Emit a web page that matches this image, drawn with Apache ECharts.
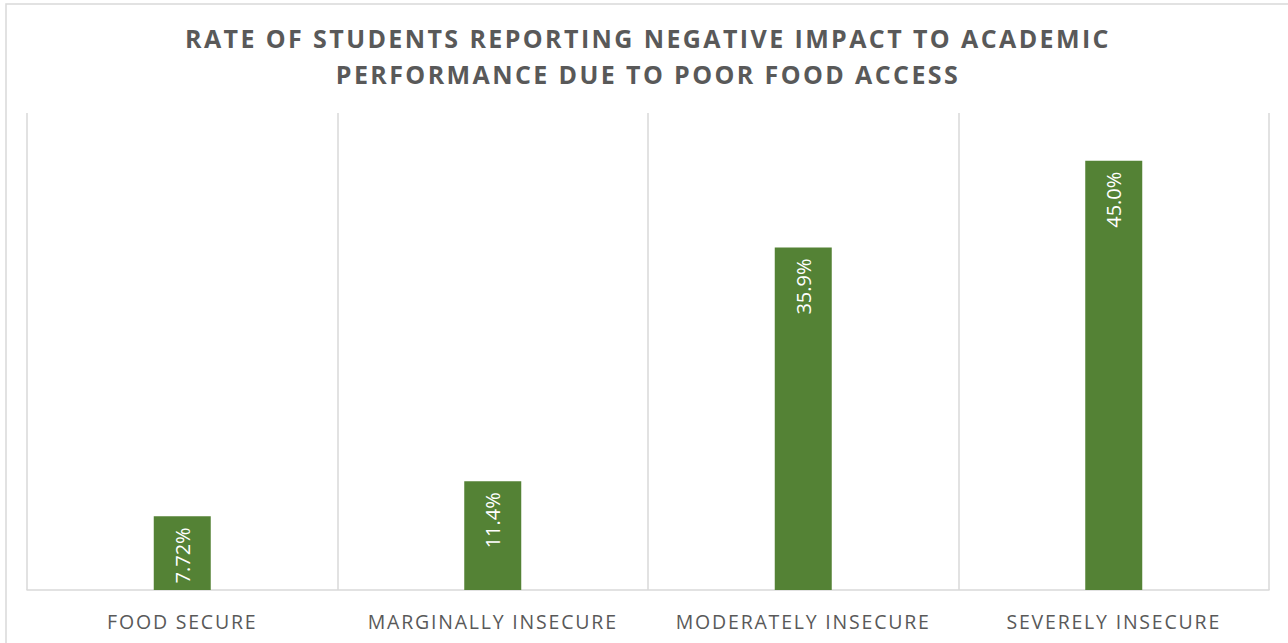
<!DOCTYPE html>
<html>
<head>
<meta charset="utf-8">
<script src="https://cdn.jsdelivr.net/npm/echarts@6/dist/echarts.min.js"></script>
<style>
  html, body { margin: 0; padding: 0; background: #ffffff; }
  #chart { width: 1288px; height: 643px; }
</style>
</head>
<body>
<div id="chart"></div>
<script>
// Food security groups and the share of students reporting a negative academic impact (%)
const categories = ['FOOD SECURE', 'MARGINALLY INSECURE', 'MODERATELY INSECURE', 'SEVERELY INSECURE'];
const rates = [7.72, 11.4, 35.9, 45.0];
const rateLabels = ['7.72%', '11.4%', '35.9%', '45.0%'];
const titleLines = ['RATE OF STUDENTS REPORTING NEGATIVE IMPACT TO ACADEMIC', 'PERFORMANCE DUE TO POOR FOOD ACCESS'];

const host = document.getElementById('chart');

// Tracked-out lettering for the title and category names (SVG text supports letter-spacing)
function trackText(root) {
  root.querySelectorAll('text').forEach(t => {
    const cs = getComputedStyle(t);
    let sp = '1.8px';
    if (parseInt(cs.fontWeight, 10) >= 600) sp = '2.4px';
    else if (cs.fill === 'rgb(255, 255, 255)' || cs.fill === '#ffffff' || cs.fill === 'white') sp = '0px';
    if (t.getAttribute('letter-spacing') !== sp) t.setAttribute('letter-spacing', sp);
  });
}
new MutationObserver(() => trackText(host)).observe(host, { childList: true, subtree: true, attributes: true, attributeFilter: ['style', 'fill'] });

const chart = echarts.init(host, null, { renderer: 'svg' });

chart.setOption({
  backgroundColor: '#ffffff',
  animation: false,
  graphic: [
    {
      type: 'rect',
      x: 6, y: 4,
      shape: { x: 0, y: 0, width: 1300, height: 660 },
      style: { fill: 'none', stroke: '#d9d9d9', lineWidth: 1.5 },
      silent: true
    },
    {
      type: 'text',
      x: 648, y: 38,
      style: {
        text: titleLines[0],
        align: 'center', verticalAlign: 'middle',
        font: 'bold 25px "Open Sans"', fill: '#595959'
      },
      silent: true
    },
    {
      type: 'text',
      x: 648, y: 74,
      style: {
        text: titleLines[1],
        align: 'center', verticalAlign: 'middle',
        font: 'bold 25px "Open Sans"', fill: '#595959'
      },
      silent: true
    }
  ],
  grid: { left: 27, right: 19, top: 113, bottom: 53 },
  xAxis: {
    type: 'category',
    data: categories,
    axisLine: { show: true, lineStyle: { color: '#d9d9d9', width: 1.5 } },
    axisTick: { show: false },
    splitLine: { show: true, lineStyle: { color: '#d9d9d9', width: 1.5 } },
    axisLabel: {
      fontFamily: 'Open Sans',
      fontSize: 19.5,
      color: '#595959',
      margin: 21
    }
  },
  yAxis: {
    type: 'value',
    min: 0,
    max: 50,
    show: false,
    splitLine: { show: false }
  },
  series: [{
    type: 'bar',
    data: rates,
    barWidth: 57,
    itemStyle: { color: '#548235' },
    label: {
      show: true,
      position: ['50%', 11],
      rotate: 90,
      align: 'right',
      verticalAlign: 'middle',
      fontFamily: 'Open Sans',
      fontSize: 20,
      color: '#ffffff',
      formatter: p => rateLabels[p.dataIndex]
    }
  }]
});
trackText(host);
</script>
</body>
</html>
